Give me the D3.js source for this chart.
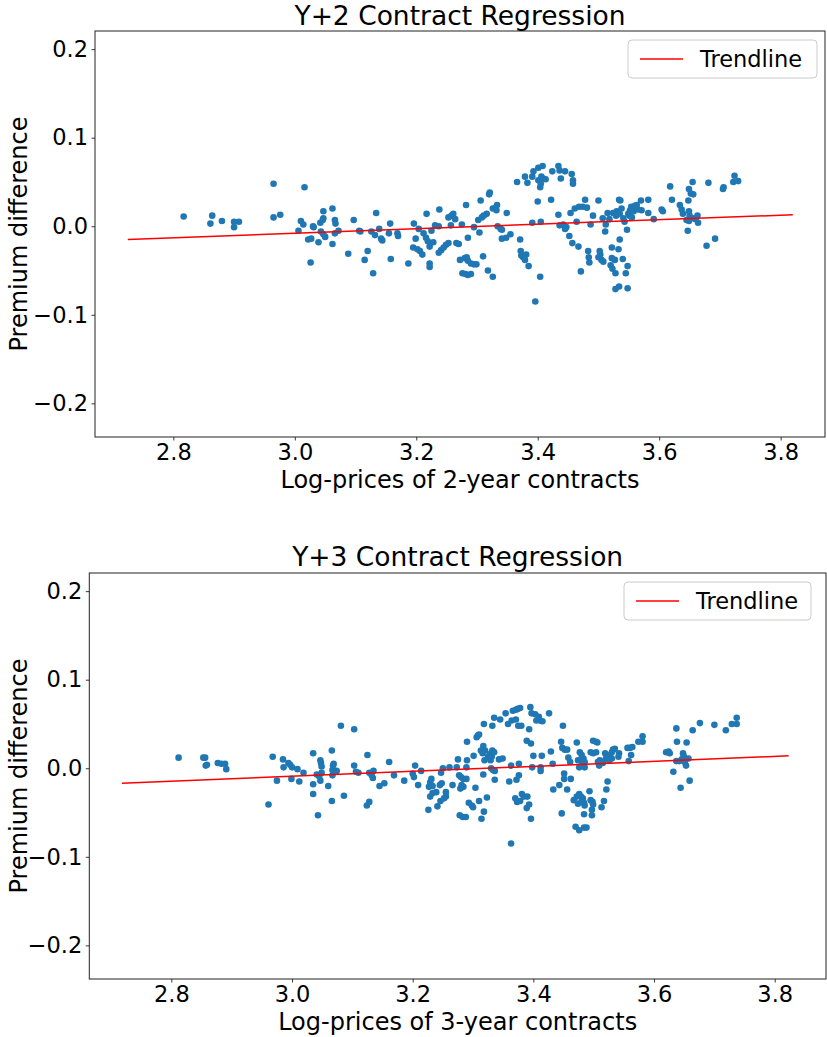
<!DOCTYPE html>
<html>
<head>
<meta charset="utf-8">
<script src="https://cdn.jsdelivr.net/npm/d3@7"></script>
<style>
body { margin: 0; background: #fff; }
svg text { font-family: "DejaVu Sans", sans-serif; fill: #000; }
</style>
</head>
<body>
<div id="charts"></div>
<script>
// Data: [log-price, premium difference]
var y2Points = [
    [2.817, 0.011], [2.864, 0.012], [2.861, 0.003], [2.880, 0.006], [2.900, 0.005], [2.908, 0.005], [2.900, -0.001],
    [2.965, 0.048], [2.965, 0.010], [2.976, 0.013], [3.016, 0.044], [3.010, 0.006], [3.014, 0.002], [3.006, -0.005],
    [3.030, 0.000], [3.031, -0.001], [3.022, -0.015], [3.027, -0.014], [3.026, -0.041], [3.039, -0.018], [3.047, 0.017],
    [3.042, 0.004], [3.046, 0.007], [3.047, 0.009], [3.043, -0.006], [3.047, -0.009], [3.050, -0.012], [3.062, 0.020],
    [3.066, 0.007], [3.067, 0.003], [3.066, -0.008], [3.062, -0.020], [3.072, -0.005],
    [3.088, -0.031], [3.097, 0.007], [3.106, -0.005], [3.108, -0.006], [3.115, -0.038], [3.120, -0.028], [3.126, -0.006],
    [3.132, -0.010], [3.129, -0.053], [3.134, 0.015], [3.139, -0.003], [3.142, -0.014], [3.144, -0.016], [3.155, -0.008],
    [3.157, 0.003], [3.158, -0.037], [3.169, -0.008], [3.170, -0.011], [3.187, -0.042], [3.196, 0.003], [3.195, -0.024],
    [3.202, -0.026], [3.206, -0.028], [3.210, -0.032], [3.199, -0.014], [3.204, -0.003], [3.212, -0.008], [3.216, -0.013],
    [3.219, -0.017], [3.222, -0.023], [3.217, 0.014], [3.222, -0.042], [3.222, -0.046], [3.225, -0.005], [3.228, -0.018],
    [3.231, 0.001], [3.237, 0.000], [3.238, 0.019],
    [3.237, -0.030], [3.241, -0.027], [3.245, -0.024], [3.249, -0.021], [3.253, -0.019], [3.253, 0.010], [3.258, 0.012],
    [3.261, 0.014], [3.264, 0.008], [3.257, 0.001], [3.266, -0.019], [3.270, -0.020], [3.275, 0.002], [3.272, -0.038],
    [3.280, -0.036], [3.283, -0.035], [3.285, -0.039], [3.290, -0.042], [3.295, -0.043], [3.299, -0.043], [3.276, -0.053],
    [3.281, -0.054], [3.285, -0.055], [3.290, -0.054], [3.282, 0.024], [3.285, -0.013], [3.295, -0.001], [3.302, 0.007],
    [3.306, 0.029], [3.308, 0.010], [3.311, 0.012], [3.316, 0.014], [3.304, -0.007], [3.310, -0.034], [3.318, -0.050],
    [3.320, 0.036], [3.321, 0.038], [3.326, 0.020], [3.331, 0.021], [3.333, 0.024], [3.332, 0.018], [3.326, -0.057],
    [3.334, 0.000], [3.339, -0.003], [3.341, -0.004], [3.341, -0.014], [3.348, -0.013], [3.355, -0.009], [3.349, 0.015],
    [3.366, 0.050], [3.379, 0.056], [3.383, 0.049], [3.391, 0.056], [3.371, -0.015], [3.372, -0.028], [3.373, -0.033],
    [3.376, -0.035], [3.379, -0.038], [3.381, -0.032], [3.385, -0.045], [3.391, 0.004], [3.393, 0.062], [3.401, 0.066],
    [3.408, 0.068], [3.401, 0.052], [3.405, 0.048], [3.409, 0.054], [3.413, 0.053], [3.404, 0.044], [3.406, 0.056],
    [3.400, 0.028], [3.404, -0.057], [3.396, -0.085], [3.405, 0.005], [3.422, 0.030], [3.424, 0.062], [3.434, 0.068],
    [3.436, 0.063], [3.438, 0.054], [3.445, 0.062], [3.434, 0.013], [3.436, 0.001], [3.442, 0.002], [3.445, -0.003],
    [3.447, -0.001], [3.452, -0.011], [3.457, -0.019], [3.454, 0.015], [3.461, 0.020], [3.456, 0.059], [3.458, 0.052],
    [3.458, 0.048], [3.464, 0.005], [3.468, 0.022], [3.467, -0.023], [3.471, -0.051],
    [3.478, 0.030], [3.474, 0.022], [3.481, 0.021], [3.483, -0.028], [3.487, 0.002], [3.484, -0.035], [3.485, -0.041],
    [3.491, 0.012], [3.500, 0.029], [3.502, -0.028], [3.500, -0.035], [3.505, -0.038], [3.508, -0.040], [3.503, -0.032],
    [3.507, 0.009], [3.512, 0.002], [3.511, -0.006], [3.515, 0.015], [3.518, 0.008], [3.522, -0.024], [3.524, 0.015],
    [3.529, 0.012], [3.530, 0.017], [3.533, -0.026], [3.535, -0.015], [3.534, 0.030], [3.536, 0.029], [3.538, 0.020],
    [3.535, 0.014], [3.520, -0.044], [3.523, -0.048], [3.527, -0.038], [3.528, -0.053], [3.522, -0.036], [3.528, -0.071],
    [3.534, -0.068], [3.548, -0.070], [3.540, -0.037], [3.545, -0.053], [3.548, -0.045], [3.541, 0.009], [3.543, 0.005],
    [3.547, -0.004], [3.549, 0.014], [3.552, 0.018], [3.554, 0.022], [3.558, 0.017], [3.560, 0.023], [3.563, 0.024],
    [3.565, 0.019], [3.570, 0.029], [3.571, 0.018], [3.582, 0.030], [3.582, 0.015], [3.591, 0.008], [3.551, 0.012],
    [3.555, 0.010], [3.604, 0.019], [3.606, 0.017], [3.618, 0.045], [3.621, 0.030], [3.634, 0.024], [3.637, 0.019],
    [3.639, 0.014], [3.648, 0.029], [3.649, 0.017], [3.650, 0.012], [3.652, 0.037], [3.649, 0.042], [3.655, 0.050],
    [3.656, 0.036], [3.645, 0.007], [3.649, 0.006], [3.656, 0.009], [3.660, 0.008], [3.663, 0.012], [3.664, 0.004],
    [3.647, -0.005], [3.678, -0.022], [3.692, -0.014], [3.681, 0.049], [3.705, 0.042], [3.706, 0.044], [3.722, 0.050],
    [3.724, 0.057], [3.730, 0.051]
];

var y3Points = [
    [2.812, 0.012], [2.853, 0.012], [2.856, 0.012], [2.857, 0.003], [2.859, 0.004], [2.877, 0.006], [2.883, 0.005],
    [2.889, 0.005], [2.891, -0.001], [2.961, -0.041], [2.968, 0.013], [2.975, -0.014], [2.985, 0.010], [2.986, 0.001],
    [2.994, 0.006], [2.997, 0.004], [3.000, 0.001], [2.999, -0.012], [3.009, -0.001], [3.012, -0.015], [3.019, -0.005],
    [3.035, 0.017], [3.035, -0.018], [3.035, -0.029], [3.043, -0.053], [3.041, -0.007], [3.045, -0.009], [3.047, -0.014],
    [3.049, -0.005], [3.047, 0.009], [3.048, 0.006], [3.049, 0.002], [3.060, -0.020], [3.066, 0.020], [3.067, -0.002],
    [3.067, -0.008], [3.068, 0.003], [3.066, -0.037],
    [3.069, 0.005], [3.074, -0.003], [3.081, 0.048], [3.086, -0.031], [3.103, 0.044], [3.103, 0.003], [3.106, -0.004],
    [3.110, -0.005], [3.125, 0.015], [3.124, -0.042], [3.128, -0.038], [3.128, -0.005], [3.132, -0.008], [3.135, -0.003],
    [3.134, -0.011], [3.145, -0.020], [3.153, -0.017], [3.161, 0.007], [3.169, -0.008], [3.186, -0.014], [3.200, -0.006],
    [3.204, 0.003], [3.202, -0.010], [3.209, -0.019], [3.214, -0.003], [3.226, -0.047], [3.229, -0.016], [3.231, -0.012],
    [3.227, -0.021], [3.233, -0.020], [3.229, -0.032], [3.233, -0.028], [3.239, -0.027], [3.241, -0.043], [3.246, -0.037],
    [3.245, -0.019], [3.248, -0.017], [3.247, -0.005], [3.250, 0.000], [3.255, -0.027], [3.255, -0.032], [3.252, -0.034],
    [3.261, 0.001], [3.266, -0.019], [3.273, 0.001], [3.275, 0.010], [3.277, -0.008], [3.280, -0.010], [3.284, -0.012],
    [3.289, -0.012], [3.281, -0.019], [3.284, -0.021], [3.279, -0.023], [3.278, -0.053], [3.283, -0.055], [3.288, -0.055],
    [3.289, 0.001], [3.290, 0.009], [3.290, 0.030], [3.293, -0.039], [3.298, -0.042], [3.300, -0.044], [3.301, 0.014],
    [3.304, -0.022], [3.306, 0.035], [3.308, 0.037], [3.310, 0.038], [3.310, -0.037], [3.314, -0.057], [3.318, -0.049],
    [3.313, 0.020], [3.317, 0.025], [3.320, 0.020], [3.316, 0.017], [3.319, 0.009], [3.317, -0.007], [3.318, 0.050],
    [3.323, -0.033], [3.325, 0.013], [3.328, 0.016], [3.331, 0.013], [3.332, 0.020], [3.335, 0.018], [3.329, 0.009],
    [3.330, 0.000], [3.333, -0.002], [3.336, -0.003], [3.332, 0.048], [3.335, 0.057], [3.336, -0.013], [3.343, 0.010],
    [3.349, 0.011], [3.345, 0.055], [3.354, 0.062], [3.358, 0.050], [3.360, -0.015], [3.363, 0.003], [3.363, -0.085],
    [3.364, 0.054], [3.366, 0.065], [3.371, 0.066], [3.374, 0.067], [3.378, 0.068], [3.371, 0.055], [3.375, 0.048],
    [3.380, 0.048], [3.372, -0.013], [3.376, -0.008], [3.376, 0.005], [3.370, -0.034], [3.373, -0.038], [3.378, -0.037],
    [3.381, -0.029], [3.384, -0.032], [3.390, -0.032], [3.393, -0.041], [3.389, -0.045], [3.396, -0.057], [3.389, 0.031],
    [3.396, 0.028], [3.393, 0.044], [3.395, 0.069], [3.397, 0.062], [3.403, 0.061], [3.405, 0.054], [3.409, 0.058],
    [3.411, 0.054], [3.415, 0.053], [3.426, 0.062], [3.398, 0.001], [3.400, 0.014], [3.412, 0.001], [3.414, 0.014],
    [3.412, -0.003], [3.429, 0.019], [3.432, 0.005], [3.449, 0.048], [3.433, -0.024], [3.443, -0.019], [3.447, -0.051],
    [3.451, -0.012], [3.456, -0.024], [3.462, -0.012], [3.446, 0.030], [3.448, 0.023], [3.452, 0.021], [3.456, 0.021],
    [3.458, 0.012], [3.461, 0.007], [3.451, -0.006], [3.467, -0.036], [3.472, -0.032], [3.474, -0.040], [3.470, -0.066],
    [3.476, -0.070], [3.472, 0.029], [3.474, 0.009], [3.476, 0.001],
    [3.477, 0.018], [3.480, 0.015], [3.479, 0.009], [3.483, 0.011], [3.481, 0.007], [3.485, 0.007], [3.485, 0.001],
    [3.476, -0.029], [3.479, -0.032], [3.482, -0.034], [3.480, -0.038], [3.484, -0.039], [3.485, -0.042], [3.484, -0.052],
    [3.497, -0.047], [3.497, -0.053], [3.484, -0.067], [3.488, -0.067], [3.493, -0.026], [3.498, -0.038], [3.499, -0.041],
    [3.495, -0.036], [3.499, 0.031], [3.504, 0.030], [3.506, 0.029], [3.495, 0.018], [3.499, 0.017], [3.504, 0.018],
    [3.507, 0.007], [3.510, 0.009], [3.515, 0.006], [3.519, 0.017], [3.521, 0.014], [3.520, 0.010], [3.509, 0.003],
    [3.513, -0.044], [3.517, -0.037], [3.521, -0.024], [3.523, -0.015], [3.527, 0.015], [3.530, 0.018], [3.532, 0.021],
    [3.535, 0.022], [3.542, 0.017], [3.541, 0.013], [3.530, 0.011], [3.526, 0.009], [3.556, 0.023], [3.560, 0.023],
    [3.564, 0.024], [3.562, 0.015], [3.558, 0.008], [3.574, 0.030], [3.581, 0.036], [3.581, 0.030], [3.620, 0.018],
    [3.624, 0.019], [3.626, 0.017], [3.637, 0.045], [3.638, 0.030], [3.632, -0.004], [3.637, 0.008], [3.642, 0.008],
    [3.646, 0.010], [3.648, 0.017], [3.649, 0.014], [3.652, 0.011], [3.651, 0.007], [3.653, 0.003], [3.657, 0.011],
    [3.654, 0.029], [3.644, -0.022], [3.659, -0.014], [3.664, 0.043], [3.676, 0.051], [3.700, 0.049], [3.719, 0.043],
    [3.729, 0.050], [3.737, 0.057], [3.737, 0.050]
];

// Trendline end points
var trend2 = [[2.725, -0.015], [3.820, 0.013]];
var trend3 = [[2.718, -0.017], [3.823, 0.014]];

var xTicks = [2.8, 3.0, 3.2, 3.4, 3.6, 3.8];
var yTicks = [-0.2, -0.1, 0.0, 0.1, 0.2];
var titles = ["Y+2 Contract Regression", "Y+3 Contract Regression"];
var xLabels = ["Log-prices of 2-year contracts", "Log-prices of 3-year contracts"];
var yLabel = "Premium difference";
var legendLabel = "Trendline";

var svgWidth = 827;
var svgHeight = 1037;

var svg = d3.select("#charts")
    .append("svg")
    .attr("width", svgWidth)
    .attr("height", svgHeight);

function drawChart(opts) {
    var left = opts.left, right = opts.right, top = opts.top, bottom = opts.bottom;

    var xScale = d3.scaleLinear()
        .domain(opts.xDomain)
        .range([left, right]);

    var yScale = d3.scaleLinear()
        .domain([-0.238, 0.2205])
        .range([bottom, top]);

    var g = svg.append("g");

    // points
    g.append("g")
        .selectAll("circle")
        .data(opts.points)
        .enter()
        .append("circle")
        .attr("cx", d => xScale(d[0]))
        .attr("cy", d => yScale(d[1]))
        .attr("r", 3.3)
        .attr("fill", "#1f77b4");

    // trendline
    var line = d3.line()
        .x(d => xScale(d[0]))
        .y(d => yScale(d[1]));

    g.append("path")
        .datum(opts.trend)
        .attr("d", line)
        .attr("fill", "none")
        .attr("stroke", "red")
        .attr("stroke-width", 1.5);

    // axes
    var bottomAxis = d3.axisBottom(xScale)
        .tickValues(xTicks)
        .tickFormat(d3.format(".1f"))
        .tickSize(3.5)
        .tickSizeOuter(0)
        .tickPadding(3.5);

    var leftAxis = d3.axisLeft(yScale)
        .tickValues(yTicks)
        .tickFormat(d3.format(".1f"))
        .tickSize(3.5)
        .tickSizeOuter(0)
        .tickPadding(3.5);

    var xg = g.append("g")
        .attr("transform", `translate(0, ${bottom})`)
        .call(bottomAxis);

    var yg = g.append("g")
        .attr("transform", `translate(${left}, 0)`)
        .call(leftAxis);

    [xg, yg].forEach(function (a) {
        a.select(".domain").remove();
        a.selectAll("line").attr("stroke", "#222").attr("stroke-width", 0.9);
        a.selectAll("text")
            .attr("font-size", "22.5px")
            .attr("font-family", "DejaVu Sans, sans-serif")
            .attr("fill", "#000");
    });

    // frame
    g.append("rect")
        .attr("x", left)
        .attr("y", top)
        .attr("width", right - left)
        .attr("height", bottom - top)
        .attr("fill", "none")
        .attr("stroke", "#222")
        .attr("stroke-width", 1);

    // title
    g.append("text")
        .attr("x", (left + right) / 2)
        .attr("y", opts.titleY)
        .attr("text-anchor", "middle")
        .attr("font-size", "26.5px")
        .text(opts.title);

    // axis labels
    g.append("text")
        .attr("x", (left + right) / 2)
        .attr("y", opts.xLabelY)
        .attr("text-anchor", "middle")
        .attr("font-size", "24px")
        .text(opts.xLabel);

    g.append("text")
        .attr("transform", `translate(27, ${(top + bottom) / 2}) rotate(-90)`)
        .attr("text-anchor", "middle")
        .attr("font-size", "24px")
        .text(yLabel);

    // legend
    var lg = g.append("g")
        .attr("transform", `translate(${opts.legendX}, ${opts.legendY})`);

    lg.append("rect")
        .attr("width", opts.legendW)
        .attr("height", 38)
        .attr("rx", 4)
        .attr("fill", "white")
        .attr("fill-opacity", 0.8)
        .attr("stroke", "#ccc");

    lg.append("line")
        .attr("x1", 12)
        .attr("x2", 55)
        .attr("y1", 19)
        .attr("y2", 19)
        .attr("stroke", "red")
        .attr("stroke-width", 1.5);

    lg.append("text")
        .attr("x", 72)
        .attr("y", 19)
        .attr("dy", "0.36em")
        .attr("font-size", "22.5px")
        .text(legendLabel);
}

drawChart({
    points: y2Points, trend: trend2, title: titles[0], xLabel: xLabels[0],
    left: 95, right: 825, top: 31, bottom: 437, xDomain: [2.671, 3.873],
    titleY: 25, xLabelY: 488, legendX: 628, legendY: 40, legendW: 189
});

drawChart({
    points: y3Points, trend: trend3, title: titles[1], xLabel: xLabels[1],
    left: 89.3, right: 826, top: 573, bottom: 979, xDomain: [2.664, 3.885],
    titleY: 566, xLabelY: 1030, legendX: 624, legendY: 582, legendW: 187
});
</script>
</body>
</html>
